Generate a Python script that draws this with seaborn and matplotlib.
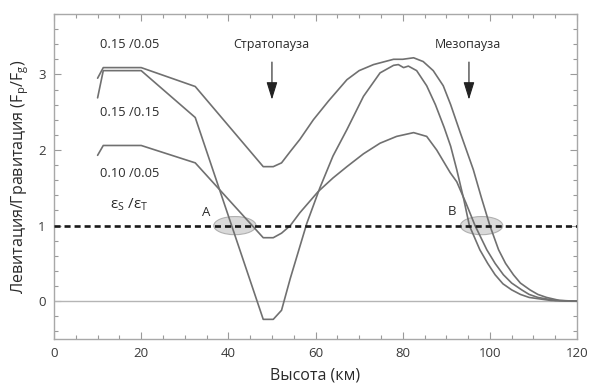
import numpy as np
import pandas as pd
import matplotlib
matplotlib.use("Agg")
import matplotlib.pyplot as plt
import seaborn as sns
from matplotlib.patches import Ellipse
from matplotlib.ticker import MultipleLocator

# ---- data ----
alt_a = [10, 11.3, 20, 32.4, 48, 50.3, 52.2, 54.2, 56.4, 59.5, 63, 67.2, 70, 73.3, 77.9, 80, 82.5,
         84.7, 87, 89.3, 91, 93.2, 96.2, 98, 100, 102, 103.6, 105.4, 107, 109.2, 111, 113, 116, 120]
lev_a = [2.95, 3.09, 3.09, 2.84, 1.78, 1.78, 1.83, 1.98, 2.14, 2.40, 2.65, 2.93, 3.05, 3.13, 3.20, 3.20, 3.22,
         3.17, 3.05, 2.85, 2.6, 2.23, 1.74, 1.38, 1.0, 0.68, 0.5, 0.35, 0.24, 0.15, 0.09, 0.05, 0.01, 0.0]

alt_b = [10, 11.3, 20, 32.4, 48, 50.3, 52.2, 54.2, 58, 61, 64, 67.2, 71, 74.8, 77.9, 79, 80.2,
         81.3, 83.2, 85.5, 87.5, 89.5, 91, 92.4, 94, 95.3, 97.7, 99.5, 101.2, 103, 105, 107, 109, 114, 120]
lev_b = [2.69, 3.05, 3.05, 2.43, -0.24, -0.24, -0.12, 0.3, 1.03, 1.5, 1.92, 2.27, 2.71, 3.02, 3.12, 3.13, 3.09,
         3.11, 3.05, 2.85, 2.6, 2.3, 2.05, 1.74, 1.35, 1.0, 0.68, 0.5, 0.35, 0.23, 0.15, 0.09, 0.05, 0.01, 0.0]

alt_c = [10, 11.3, 20, 32.4, 48, 50.3, 52.2, 54.2, 56.4, 60.6, 64, 67.2, 71, 74.8, 78.6, 82.5, 85.5,
         87.8, 90.9, 92.4, 94.5, 96.6, 99.3, 101.2, 103.1, 105, 107.3, 109, 111, 115, 120]
lev_c = [1.93, 2.06, 2.06, 1.83, 0.84, 0.84, 0.9, 1.0, 1.17, 1.45, 1.63, 1.78, 1.95, 2.09, 2.18, 2.23, 2.18,
         2.0, 1.7, 1.58, 1.3, 1.0, 0.68, 0.5, 0.35, 0.24, 0.15, 0.09, 0.05, 0.01, 0.0]

series_labels = ["0.15 /0.05", "0.15 /0.15", "0.10 /0.05"]
label_y = [3.40, 2.50, 1.69]
x_ticks = [0, 20, 40, 60, 80, 100, 120]
y_ticks = [0, 1, 2, 3]

df = pd.concat([
    pd.DataFrame({"alt": alt_a, "lev": lev_a, "s": series_labels[0]}),
    pd.DataFrame({"alt": alt_b, "lev": lev_b, "s": series_labels[1]}),
    pd.DataFrame({"alt": alt_c, "lev": lev_c, "s": series_labels[2]}),
])

sns.set_theme(style="ticks")
plt.rcParams["font.family"] = ["Open Sans", "DejaVu Sans"]
plt.rcParams["mathtext.fontset"] = "custom"
plt.rcParams["mathtext.rm"] = "Open Sans"
plt.rcParams["mathtext.it"] = "Open Sans"

fig = plt.figure(figsize=(5.91, 3.87), dpi=100)
ax = fig.add_axes([0.0914, 0.124, 0.885, 0.840])

line_col = "#707070"
txt_col = "#2a2a2a"

# reference lines
ax.axhline(0, color="#b5b5b5", lw=1.0, zorder=1)
ax.axhline(1, color="#1a1a1a", lw=1.9, dashes=(2.3, 1.5), zorder=4)

# ellipses A and B
for cx in (41.5, 98.1):
    ax.add_patch(Ellipse((cx, 1.0), 9.7, 0.24, facecolor="#d9d9d9", edgecolor="#b0b0b0",
                         lw=0.8, zorder=2))

sns.lineplot(data=df, x="alt", y="lev", units="s", estimator=None, sort=False,
             color=line_col, lw=1.2, ax=ax, legend=False, zorder=3)

ax.set_xlim(0, 120)
ax.set_ylim(-0.5, 3.8)
ax.set_xticks(x_ticks)
ax.set_yticks(y_ticks)
ax.xaxis.set_minor_locator(MultipleLocator(5))
ax.yaxis.set_minor_locator(MultipleLocator(0.2))
ax.tick_params(which="both", direction="in", top=True, right=True, color="#9a9a9a",
               labelcolor="#3a3a3a", labelsize=9.5, width=0.8)
ax.tick_params(which="major", length=5, pad=6)
ax.tick_params(which="minor", length=3)
for sp in ax.spines.values():
    sp.set_color("#a8a8a8")
    sp.set_linewidth(1.0)

ax.set_xlabel("Высота (км)", fontsize=11.5, color=txt_col, labelpad=5)
ax.set_ylabel("Левитация/Гравитация (F$_\\mathregular{p}$/F$_\\mathregular{g}$)",
              fontsize=11.5, color=txt_col, labelpad=5)

for lab, yy in zip(series_labels, label_y):
    ax.text(10.6, yy, lab, fontsize=9.3, color=txt_col, ha="left", va="center")
ax.text(12.8, 1.27, "$\\epsilon_S$ /$\\epsilon_T$", fontsize=11, color=txt_col,
        ha="left", va="center")

ax.text(35.0, 1.18, "A", fontsize=9.5, color=txt_col, ha="center", va="center")
ax.text(91.2, 1.19, "B", fontsize=9.5, color=txt_col, ha="center", va="center")

for xc, name in ((50.0, "Стратопауза"), (95.2, "Мезопауза")):
    ax.text(xc - 0.2, 3.40, name, fontsize=9, color=txt_col, ha="center", va="center")
    ax.annotate("", xy=(xc, 2.63), xytext=(xc, 3.20),
                arrowprops=dict(arrowstyle="-|>,head_length=0.9,head_width=0.28",
                                color="#222222", lw=0.8))

fig.savefig("out.png", dpi=100)
